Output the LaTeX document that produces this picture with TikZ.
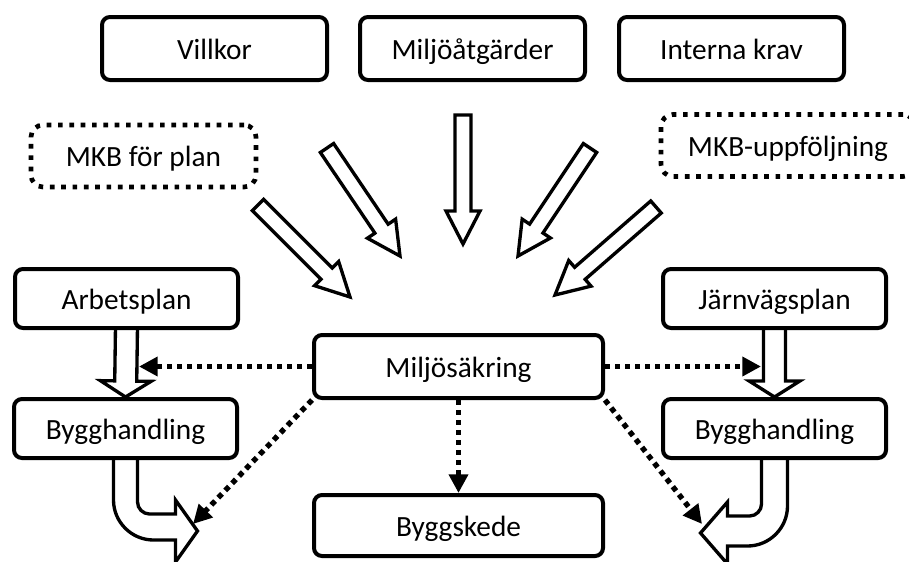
\documentclass[tikz,border=0pt]{standalone}
\usepackage{fontspec}
\setmainfont{Carlito}
\usetikzlibrary{calc, arrows.meta, positioning}

\tikzset{
  ruta/.style={draw, line width=3pt, rounded corners=6pt, fill=white, inner sep=0pt,
    minimum width=168.75pt, minimum height=47.25pt, text height=18pt, text depth=2pt,
    font=\fontsize{22}{26}\selectfont},
  prickruta/.style={ruta, line width=3.5pt, dash pattern=on 3.5pt off 5pt, rounded corners=9pt, minimum height=46.5pt},
  sidruta/.style={ruta, minimum width=167.25pt, minimum height=44.25pt},
  mittruta/.style={ruta, minimum width=216.75pt},
  prickpil/.style={line width=4pt, dash pattern=on 4pt off 3.5pt, -{Triangle[length=14pt,width=14pt]}},
  blockpil/.style={draw, line width=2.5pt, fill=white, line join=miter}
}

% fet pil: start, spets, halv skaftbredd, halv huvudbredd, huvudlangd
\newcommand{\fetpil}[5]{%
  \coordinate (fpH) at ($(#2)!#5!(#1)$);
  \draw[blockpil] ($(#1)!#3!90:(#2)$) -- ($(fpH)!#3!90:(#2)$) -- ($(fpH)!#4!90:(#2)$) -- (#2)
    -- ($(fpH)!#4!-90:(#2)$) -- ($(fpH)!#3!-90:(#2)$) -- ($(#1)!#3!-90:(#2)$) -- cycle;}

\begin{document}
\begin{tikzpicture}[x=0.75pt, y=-0.75pt]
\useasboundingbox (0,0) rectangle (909,561);
\clip (0,0) rectangle (909,561);

% Pilar in mot Miljosakring
\coordinate (a1s) at (258,205); \coordinate (a1e) at (350,297);
\coordinate (a2s) at (327,148); \coordinate (a2e) at (400,256);
\coordinate (a3s) at (463,115); \coordinate (a3e) at (463,244);
\coordinate (a4s) at (590,148); \coordinate (a4e) at (518,256);
\coordinate (a5s) at (656,207); \coordinate (a5e) at (555,295);
\fetpil{a1s}{a1e}{6pt}{12.75pt}{24.75pt}
\fetpil{a2s}{a2e}{6pt}{12.75pt}{24.75pt}
\fetpil{a3s}{a3e}{6pt}{12.75pt}{24.75pt}
\fetpil{a4s}{a4e}{6pt}{12.75pt}{24.75pt}
\fetpil{a5s}{a5e}{6pt}{12.75pt}{24.75pt}

% Vanster: Arbetsplan -> Bygghandling -> bygge
\coordinate (vA) at (126.5,326);
\coordinate (vB) at (125.5,397);
\coordinate (vC) at (125.5,458);
\fetpil{vA}{vB}{8.25pt}{19pt}{12pt}
\begin{scope}[shift={(vC)}]
\draw[blockpil] (-12,-2) -- (-12,42) .. controls (-12,64) and (6,82) .. (28,82) -- (50,82)
  -- (50,104) -- (72,73) -- (50,42) -- (50,56) -- (24,56)
  .. controls (17.4,56) and (12,50.6) .. (12,44) -- (12,-2) -- cycle;
\end{scope}

% Hoger: Jarnvagsplan -> Bygghandling -> bygge
\coordinate (hA) at (774.5,326);
\coordinate (hB) at (774.5,397);
\coordinate (hC) at (774.5,458);
\fetpil{hA}{hB}{8.25pt}{19pt}{12pt}
\begin{scope}[shift={(hC)}]
\draw[blockpil] (13,-2) -- (13,48) .. controls (13,70) and (-5,88) .. (-27,88) -- (-47,88)
  -- (-47,106) -- (-74,75) -- (-47,44) -- (-47,58) -- (-25,58)
  .. controls (-18.4,58) and (-13,52.6) .. (-13,46) -- (-13,-2) -- cycle;
\end{scope}

% Rutor
\node[ruta] (villkor) at (214.5,48.5) {Villkor};
\node[ruta] (atgard) at (472.5,48.5) {Miljöåtgärder};
\node[ruta] (intern) at (731.5,48.5) {Interna krav};
\node[prickruta] (mkbplan) at (143.5,156) {MKB för plan};
\node[prickruta, minimum width=190.5pt] (mkbupp) at (788,145.5) {MKB-uppföljning};
\node[mittruta] (mil) at (458.5,366.5) {Miljösäkring};
\node[mittruta, minimum height=45.75pt] (bygg) at (458.5,525.5) {Byggskede};
\node[sidruta] (arb) at (126.5,298.5) {Arbetsplan};
\node[sidruta] (byhL) at (125.5,428.5) {Bygghandling};
\node[sidruta] (jvp) at (774.5,298.5) {Järnvägsplan};
\node[sidruta] (byhR) at (774.5,428.5) {Bygghandling};

% Prickade pilar fran Miljosakring
\coordinate (pL) at (139,366.5);
\coordinate (pR) at (761,366.5);
\coordinate (cL) at (193,524);
\coordinate (cR) at (702,524);
\draw[prickpil] (mil.west) -- (pL);
\draw[prickpil] (mil.east) -- (pR);
\draw[prickpil] (mil.south) -- (bygg.north);
\draw[prickpil] (mil.south west) -- (cL);
\draw[prickpil] (mil.south east) -- (cR);
\end{tikzpicture}
\end{document}
